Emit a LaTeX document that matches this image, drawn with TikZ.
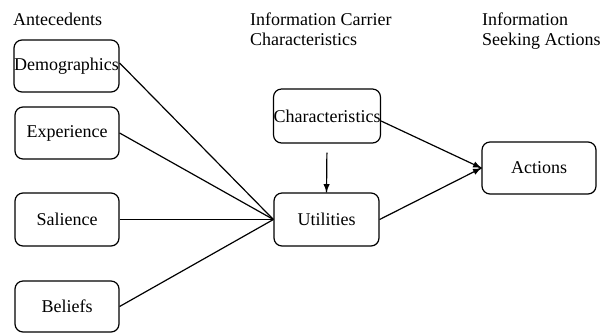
\documentclass[tikz,border=0pt]{standalone}
\usepackage{fontspec}
\setmainfont{Liberation Serif}
\usepackage{tikz}
\usetikzlibrary{positioning, calc, shapes, arrows.meta, arrows, decorations.markings}
\tikzstyle{Arrow} = [
%arrow drawn at the end of the line:
line width = 1.2pt,
decoration={
markings,
mark=at position 1 with {
\arrow[scale = 1.3]{latex}
}
},
preaction = {decorate}
]

\begin{document}
\begin{tikzpicture}[
				x = 1pt, y = -1pt,
				every node/.style = {font = \fontsize{18}{20}\selectfont},
				factor/.style = {rectangle, rounded corners = 8pt, line width = 1.2pt, draw, text centered, inner sep = 0pt, minimum width = 104pt, minimum height = 52pt},
				heading/.style = {anchor = north west, align = left, inner sep = 0pt},
				link/.style = {line width = 1.2pt},
			]
			\useasboundingbox (0,0) rectangle (609,333);

			% column headings
			\node[heading](hAnte) at (13,13){Antecedents};
			\node[heading](hCarr) at (250,13){Information Carrier\\Characteristics};
			\node[heading](hSeek) at (482,13){Information\\Seeking Actions};

			% boxes
			\node[factor, minimum width = 105pt](Demo) at (66.5,66){Demographics};
			\node[factor](Expe) at (67,133){Experience};
			\node[factor, minimum height = 53pt](Sali) at (67,219.5){Salience};
			\node[factor, minimum height = 51pt](Beli) at (67,306.5){Beliefs};
			\node[factor, minimum width = 106pt, minimum height = 54pt](Char) at (327,116){Characteristics};
			\node[factor, minimum width = 105pt, minimum height = 53pt](Util) at (326.5,219.5){Utilities};
			\node[factor, minimum width = 114pt](Acti) at (539,168){Actions};

			\draw[link]($(Demo.east)+(0,-3)$)--(Util.west);
			\draw[link](Expe.east)--(Util.west);
			\draw[link](Sali.east)--(Util.west);
			\draw[link](Beli.east)--(Util.west);
			\draw[Arrow, shorten <= 9pt](Char.south)--(Util.north);
			\draw[Arrow]($(Char.east)+(0,5)$)--(Acti.west);
			\draw[Arrow](Util.east)--(Acti.west);

		\end{tikzpicture}
\end{document}
